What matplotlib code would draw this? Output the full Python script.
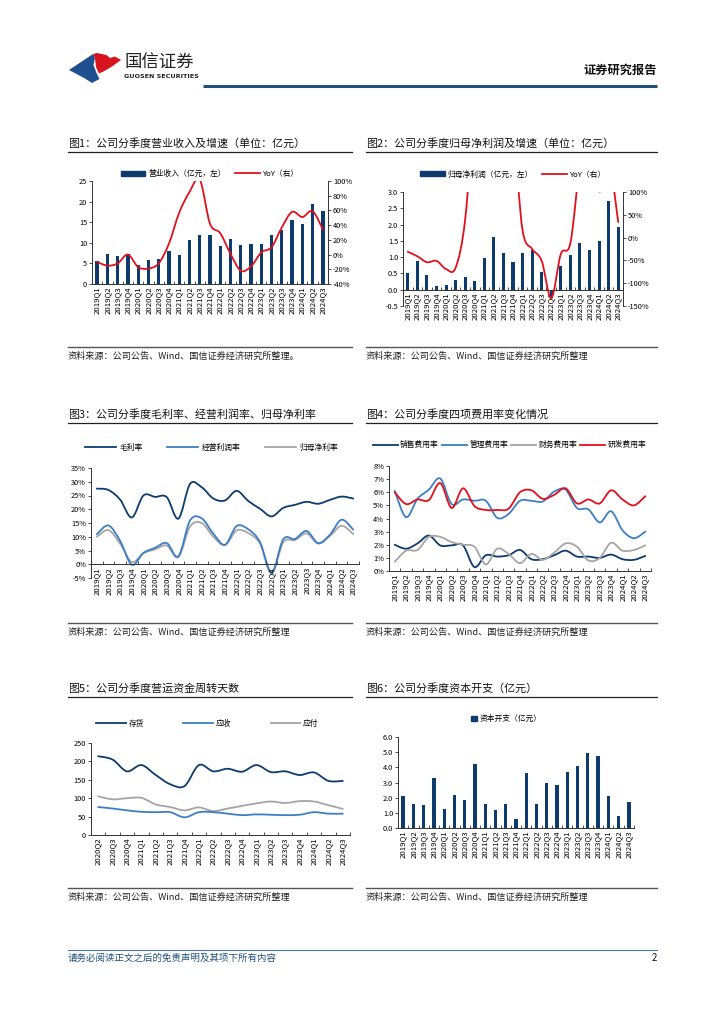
# -*- coding: utf-8 -*-
"""Guosen report page 2: six quarterly charts (revenue, profit, margins, expense ratios, working capital, capex)."""
import numpy as np
import matplotlib
matplotlib.use('Agg')
import matplotlib.pyplot as plt
from matplotlib.path import Path
from matplotlib.patches import PathPatch, Polygon, Rectangle
from matplotlib.lines import Line2D
from matplotlib.ticker import FuncFormatter

plt.rcParams['font.family'] = ['Noto Sans CJK SC', 'DejaVu Sans']
plt.rcParams['axes.unicode_minus'] = False

# ── data ──────────────────────────────────────────────────────────────────────
QUARTERS = ['2019Q1', '2019Q2', '2019Q3', '2019Q4', '2020Q1', '2020Q2', '2020Q3', '2020Q4',
            '2021Q1', '2021Q2', '2021Q3', '2021Q4', '2022Q1', '2022Q2', '2022Q3', '2022Q4',
            '2023Q1', '2023Q2', '2023Q3', '2023Q4', '2024Q1', '2024Q2', '2024Q3']
QUARTERS_WC = QUARTERS[5:]          # 2020Q2 .. 2024Q3

revenue     = [5.5, 7.2, 6.7, 7.2, 4.5, 5.8, 6.0, 8.1, 7.1, 10.8, 12.0, 11.8,
               9.3, 10.9, 9.5, 9.8, 9.6, 12.0, 13.0, 15.6, 14.6, 19.3, 17.6]
revenue_yoy = [-10, -15, -12, 0, -17, -19, -12, 15, 57, 85, 102, 42,
               29, 1, -22, -16, 3, 10, 37, 58, 51, 59, 34]

net_profit     = [0.52, 0.88, 0.46, 0.10, 0.16, 0.30, 0.40, 0.26, 0.97, 1.62, 1.13, 0.84,
                  1.13, 1.22, 0.55, -0.25, 0.72, 1.07, 1.43, 1.21, 1.49, 2.72, 1.92]
net_profit_yoy = [-31, -41, -54, -51, -69, -66, 40, 300, 506, 440, 183, 223,
                  16, -25, -51, -133, -36, -12, 160, 250, 102, 170, 34]

gross_margin = [27.5, 27.0, 23.5, 17.0, 25.0, 24.5, 24.4, 16.6, 29.2, 28.0, 23.9, 23.2,
                26.7, 23.0, 20.2, 17.4, 20.5, 21.6, 22.7, 22.0, 23.4, 24.6, 23.9]
op_margin    = [10.9, 14.1, 8.5, -0.2, 4.1, 6.0, 7.7, 2.9, 15.9, 16.7, 11.1, 7.1,
                13.9, 12.7, 8.1, -3.0, 9.1, 9.2, 12.1, 7.7, 10.7, 16.2, 12.6]
net_margin   = [10.0, 12.4, 7.5, 0.8, 4.0, 5.4, 6.8, 2.6, 13.7, 15.0, 10.0, 7.0,
                12.3, 11.3, 7.5, -3.5, 8.0, 8.8, 11.2, 7.5, 10.3, 14.0, 11.0]

selling_ratio = [2.0, 1.7, 2.1, 2.7, 1.95, 1.95, 1.95, 0.3, 1.2, 1.1, 1.2, 1.6,
                 0.9, 0.9, 1.2, 1.55, 1.1, 1.1, 1.0, 1.25, 0.9, 0.85, 1.15]
admin_ratio   = [6.1, 4.1, 5.5, 6.2, 7.05, 5.1, 5.45, 5.35, 5.35, 4.05, 4.35, 5.35,
                 5.35, 5.3, 6.05, 6.2, 4.8, 4.7, 3.7, 4.55, 3.1, 2.5, 3.0]
finance_ratio = [0.7, 1.55, 1.6, 2.6, 2.6, 2.2, 2.0, 1.85, 0.5, 1.7, 1.3, 0.6,
                 1.3, 0.85, 1.4, 2.1, 1.85, 0.8, 1.0, 2.15, 1.55, 1.6, 1.95]
rd_ratio      = [6.0, 5.1, 5.45, 5.4, 6.7, 4.8, 6.3, 4.95, 4.65, 4.65, 4.75, 6.0,
                 6.15, 5.5, 5.8, 6.3, 5.15, 5.45, 5.15, 6.15, 5.45, 5.0, 5.7]

inventory_days  = [214, 205, 173, 190, 163, 138, 133, 190, 173, 180, 172, 190,
                   171, 173, 163, 170, 147, 147]
receivable_days = [76, 72, 67, 63, 62, 62, 48, 62, 62, 58, 54, 56,
                   55, 54, 55, 62, 58, 58]
payable_days    = [105, 97, 100, 101, 83, 76, 67, 75, 65, 72, 79, 86,
                   91, 87, 92, 91, 81, 71]

capex = [2.1, 1.6, 1.5, 3.3, 1.25, 2.15, 1.85, 4.2, 1.6, 1.2, 1.6, 0.58,
         3.6, 1.6, 3.0, 2.85, 3.7, 4.1, 4.97, 4.78, 2.1, 0.82, 1.7]

# ── style ─────────────────────────────────────────────────────────────────────
W, H = 724, 1024
NAVY  = '#0D3B6E'
MID   = '#3D7EC5'
GREY  = '#A5A5A5'
RED   = '#E3101B'
AXIS  = '#333333'
XTICK_FS = 5.6
YTICK_FS = 5.3
LEG_FS   = 5.6


def px_axes(fig, x0, y0, x1, y1):
    return fig.add_axes([x0 / W, 1 - y1 / H, (x1 - x0) / W, (y1 - y0) / H])


def smooth_line(ax, y, color, lw=1.3):
    """Excel-like smoothed line through the points (Catmull-Rom as cubic Bezier)."""
    pts = np.column_stack([np.arange(len(y), dtype=float), np.asarray(y, float)])
    ext = np.vstack([pts[0], pts, pts[-1]])
    verts, codes = [pts[0]], [Path.MOVETO]
    for i in range(len(pts) - 1):
        p0, p1, p2, p3 = ext[i], ext[i + 1], ext[i + 2], ext[i + 3]
        verts += [p1 + (p2 - p0) / 6.0, p2 - (p3 - p1) / 6.0, p2]
        codes += [Path.CURVE4] * 3
    ax.add_patch(PathPatch(Path(verts, codes), fill=False, edgecolor=color,
                           linewidth=lw, capstyle='round', joinstyle='round'))
    return Line2D([], [], color=color, linewidth=lw)


def base_axes(ax, labels, zero_line=False):
    n = len(labels)
    if zero_line:
        ax.spines['bottom'].set_position(('data', 0))
    ax.set_xlim(-0.5, n - 0.5)
    ax.set_xticks(range(n))
    ax.set_xticklabels(labels)
    ax.set_xticks(np.arange(n + 1) - 0.5, minor=True)
    ax.tick_params(axis='x', which='major', length=0, pad=2,
                   labelrotation=90, labelsize=XTICK_FS)
    ax.tick_params(axis='x', which='minor', direction='in', length=2.5, width=0.6, color=AXIS)
    ax.tick_params(axis='y', labelsize=YTICK_FS, length=2, width=0.6, pad=1.5, color=AXIS)
    for s in ('top', 'right'):
        ax.spines[s].set_visible(False)
    for s in ('left', 'bottom'):
        ax.spines[s].set_color(AXIS)
        ax.spines[s].set_linewidth(0.7)
    ax.patch.set_alpha(0)


def right_axis(ax):
    ax.tick_params(axis='y', labelsize=YTICK_FS, length=2, width=0.6, pad=1.5, color=AXIS)
    for s in ('top', 'left', 'bottom'):
        ax.spines[s].set_visible(False)
    ax.spines['right'].set_color(AXIS)
    ax.spines['right'].set_linewidth(0.7)
    ax.yaxis.set_major_formatter(FuncFormatter(pct))


def pct(v, _):
    return '%d%%' % round(v)


fig = plt.figure(figsize=(W / 100, H / 100), dpi=100)
fig.patch.set_facecolor('white')

# page overlay in pixel coordinates
page = fig.add_axes([0, 0, 1, 1])
page.set_xlim(0, W)
page.set_ylim(H, 0)
page.axis('off')

# header
page.add_patch(Polygon([(69, 70), (93, 54), (95, 58), (93.5, 65), (96.5, 73), (99.5, 79),
                        (92, 83), (85, 78.5)], closed=True, color='#1F4F8E', lw=0))
page.add_patch(Polygon([(93, 54), (97, 53), (106.5, 55), (110, 58), (115, 56.5), (121, 60),
                        (112, 66.5), (103.5, 71.5), (99, 73.5), (96, 67), (95, 58)],
                       closed=True, color='#D7141E', lw=0))
page.text(124, 63, '国信证券', fontsize=12.5, color='#222222', va='center', ha='left')
page.text(124, 77, 'GUOSEN SECURITIES', fontsize=4.6, color='#222222', va='center',
          ha='left', fontweight='bold', family=['DejaVu Sans'])
page.text(657, 70, '证券研究报告', fontsize=8.8, fontweight='bold', color='#111111',
          ha='right', va='center')
page.plot([203, 657], [86, 86], color='#1F4E79', lw=2.2, solid_capstyle='butt')

# titles, rules, sources
TITLES = [(68, 143, '图1：公司分季度营业收入及增速（单位：亿元）'),
          (366, 143, '图2：公司分季度归母净利润及增速（单位：亿元）'),
          (68, 414, '图3：公司分季度毛利率、经营利润率、归母净利率'),
          (366, 414, '图4：公司分季度四项费用率变化情况'),
          (68, 688, '图5：公司分季度营运资金周转天数'),
          (366, 688, '图6：公司分季度资本开支（亿元）')]
for x, y, t in TITLES:
    page.text(x, y, t, fontsize=7.9, color='#111111', va='center', ha='left')
    page.plot([x, x + (284 if x < 200 else 291)], [y + 9, y + 9], color='#222222', lw=0.9)

SOURCES = [(68, 347, '资料来源：公司公告、Wind、国信证券经济研究所整理。'),
           (366, 347, '资料来源：公司公告、Wind、国信证券经济研究所整理'),
           (68, 623, '资料来源：公司公告、Wind、国信证券经济研究所整理'),
           (366, 623, '资料来源：公司公告、Wind、国信证券经济研究所整理'),
           (68, 888, '资料来源：公司公告、Wind、国信证券经济研究所整理'),
           (366, 888, '资料来源：公司公告、Wind、国信证券经济研究所整理')]
for x, y, t in SOURCES:
    page.plot([x, x + (284 if x < 200 else 291)], [y, y], color='#555555', lw=1.0)
    page.text(x, y + 9, t, fontsize=6.6, color='#222222', va='center', ha='left')

# footer
page.plot([68, 657], [950, 950], color='#4A77A8', lw=0.8)
page.text(68, 958, '请务必阅读正文之后的免责声明及其项下所有内容', fontsize=6.8,
          color='#1F4E79', style='italic', va='center', ha='left')
page.text(657, 958, '2', fontsize=7, color='#111111', va='center', ha='right')

x23 = np.arange(len(QUARTERS))

# ── Fig 1: revenue + YoY ──────────────────────────────────────────────────────
ax1 = px_axes(fig, 92, 181, 328, 284)
base_axes(ax1, QUARTERS)
ax1.bar(x23, revenue, width=0.32, color=NAVY, zorder=2)
ax1.set_ylim(0, 25)
ax1.set_yticks(range(0, 26, 5))
ax1b = ax1.twinx()
ax1b.set_ylim(-40, 100)
ax1b.set_yticks(range(-40, 101, 20))
right_axis(ax1b)
h1 = smooth_line(ax1b, revenue_yoy, RED)
ax1.legend([Rectangle((0, 0), 1, 1, color=NAVY), h1], ['营业收入（亿元，左）', 'YoY（右）'],
           loc='lower center', bbox_to_anchor=(0.5, 1.0), ncol=2, frameon=False,
           fontsize=LEG_FS, handlelength=3.2, handleheight=0.6, columnspacing=1.2,
           handletextpad=0.4, borderaxespad=0)

# ── Fig 2: net profit + YoY ───────────────────────────────────────────────────
ax2 = px_axes(fig, 403, 192, 623, 306)
base_axes(ax2, QUARTERS, zero_line=True)
ax2.bar(x23, net_profit, width=0.32, color=NAVY, zorder=2)
ax2.set_ylim(-0.5, 3.0)
ax2.set_yticks(np.arange(-0.5, 3.01, 0.5))
ax2.yaxis.set_major_formatter(FuncFormatter(lambda v, _: '%.1f' % v))
ax2b = ax2.twinx()
ax2b.set_ylim(-150, 100)
ax2b.set_yticks(range(-150, 101, 50))
right_axis(ax2b)
h2 = smooth_line(ax2b, net_profit_yoy, RED)
ax2.legend([Rectangle((0, 0), 1, 1, color=NAVY), h2], ['归母净利润（亿元，左）', 'YoY（右）'],
           loc='lower center', bbox_to_anchor=(0.5, 1.09), ncol=2, frameon=False,
           fontsize=LEG_FS, handlelength=3.2, handleheight=0.6, columnspacing=1.2,
           handletextpad=0.4, borderaxespad=0)

# ── Fig 3: margins ────────────────────────────────────────────────────────────
ax3 = px_axes(fig, 91, 468, 359, 578)
base_axes(ax3, QUARTERS, zero_line=True)
ax3.set_ylim(-5, 35)
ax3.set_yticks(range(-5, 36, 5))
ax3.yaxis.set_major_formatter(FuncFormatter(pct))
hs3 = [smooth_line(ax3, net_margin, GREY),
       smooth_line(ax3, op_margin, MID),
       smooth_line(ax3, gross_margin, NAVY)]
ax3.legend(hs3[::-1], ['毛利率', '经营利润率', '归母净利率'], loc='lower center',
           bbox_to_anchor=(0.45, 1.12), ncol=3, frameon=False, fontsize=LEG_FS,
           handlelength=4.0, columnspacing=3.2, handletextpad=0.4, borderaxespad=0)

# ── Fig 4: expense ratios ─────────────────────────────────────────────────────
ax4 = px_axes(fig, 389, 466, 651, 571)
base_axes(ax4, QUARTERS)
ax4.set_ylim(0, 8)
ax4.set_yticks(range(0, 9))
ax4.yaxis.set_major_formatter(FuncFormatter(pct))
hs4 = [smooth_line(ax4, selling_ratio, NAVY),
       smooth_line(ax4, admin_ratio, MID),
       smooth_line(ax4, finance_ratio, GREY),
       smooth_line(ax4, rd_ratio, RED)]
ax4.legend(hs4, ['销售费用率', '管理费用率', '财务费用率', '研发费用率'], loc='lower center',
           bbox_to_anchor=(0.46, 1.13), ncol=4, frameon=False, fontsize=LEG_FS,
           handlelength=3.2, columnspacing=0.4, handletextpad=0.3, borderaxespad=0)

# ── Fig 5: working capital days ───────────────────────────────────────────────
ax5 = px_axes(fig, 91, 743, 350, 835)
base_axes(ax5, QUARTERS_WC)
ax5.set_ylim(0, 250)
ax5.set_yticks(range(0, 251, 50))
hs5 = [smooth_line(ax5, payable_days, GREY),
       smooth_line(ax5, receivable_days, MID),
       smooth_line(ax5, inventory_days, NAVY)]
ax5.legend(hs5[::-1], ['存货', '应收', '应付'], loc='lower center',
           bbox_to_anchor=(0.45, 1.13), ncol=3, frameon=False, fontsize=LEG_FS,
           handlelength=3.8, columnspacing=5.0, handletextpad=0.4, borderaxespad=0)

# ── Fig 6: capex ──────────────────────────────────────────────────────────────
ax6 = px_axes(fig, 398, 737, 634, 828)
base_axes(ax6, QUARTERS)
ax6.bar(x23, capex, width=0.32, color=NAVY, zorder=2)
ax6.set_ylim(0, 6)
ax6.set_yticks(range(0, 7))
ax6.yaxis.set_major_formatter(FuncFormatter(lambda v, _: '%.1f' % v))
ax6.legend([Rectangle((0, 0), 1, 1, color=NAVY)], ['资本开支（亿元）'], loc='lower center',
           bbox_to_anchor=(0.46, 1.12), frameon=False, fontsize=LEG_FS,
           handlelength=0.7, handleheight=0.7, handletextpad=0.4, borderaxespad=0)

fig.savefig('out.png', dpi=100, facecolor='white')
